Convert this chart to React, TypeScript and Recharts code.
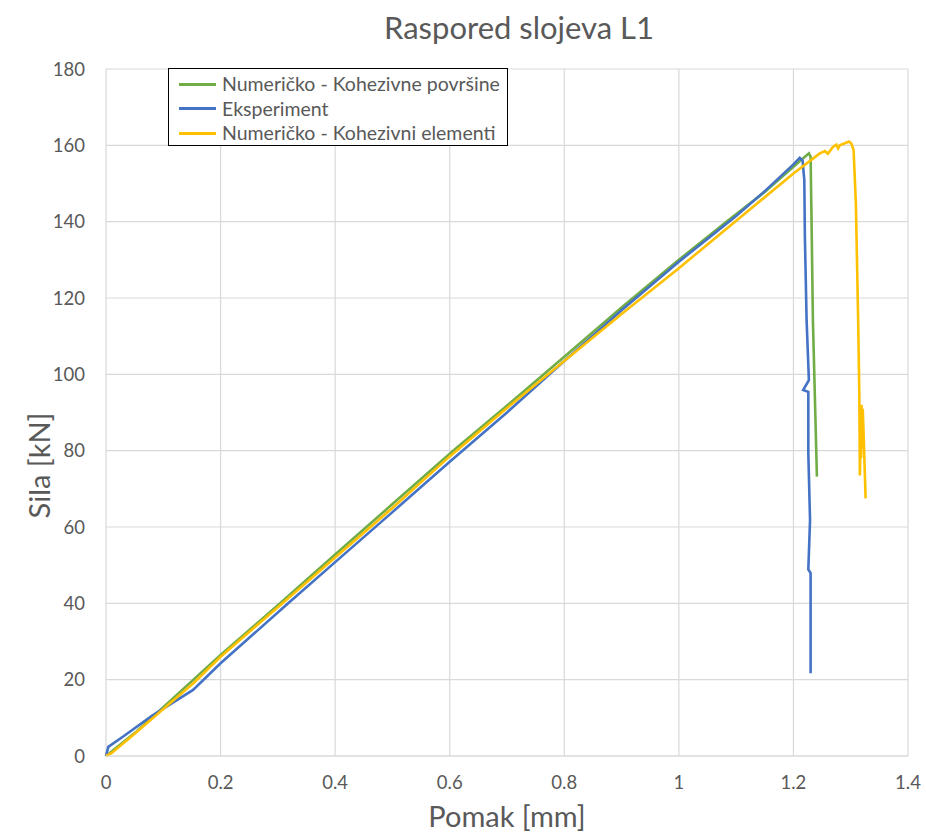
import { LineChart, Line, XAxis, YAxis, CartesianGrid } from 'recharts';

// Pomak [mm] / Sila [kN] pairs
const kohezivnePovrsine = [
  [0, 0], [0.05, 6], [0.1, 12.8], [0.2, 26.5], [0.304, 40], [0.4, 52.8], [0.5, 66],
  [0.606, 80], [0.705, 92.4], [0.8, 104.6], [0.9, 117.5], [1.0, 130], [1.083, 140],
  [1.15, 147.8], [1.2, 154.4], [1.227, 157.9], [1.23, 157], [1.2316, 140.4],
  [1.234, 114.2], [1.237, 96.7], [1.241, 73.2],
];

const eksperiment = [
  [0, 0], [0.004, 2.4], [0.03, 5.1], [0.08, 10.5], [0.152, 17.3], [0.2, 24.3],
  [0.318, 40], [0.4, 50.8], [0.5, 63.9], [0.6, 77.1], [0.7, 90], [0.8, 103.5],
  [0.9, 116.8], [1.0, 129.5], [1.1, 141.5], [1.15, 148], [1.2, 155], [1.211, 156.7],
  [1.216, 156], [1.219, 150.9], [1.22, 136], [1.223, 114.2], [1.227, 98.5],
  [1.217, 95.9], [1.226, 95.4], [1.226, 79.3], [1.229, 61.8], [1.227, 53.1],
  [1.226, 48.9], [1.23, 47.9], [1.23, 21.7],
];

const kohezivniElementi = [
  [0, 0], [0.01, 0.8], [0.05, 5.8], [0.1, 12.3], [0.152, 19], [0.2, 26], [0.3, 39],
  [0.4, 52], [0.5, 65], [0.6, 78.5], [0.7, 91.2], [0.8, 103.5], [0.9, 115.8],
  [1.0, 127.8], [1.098, 140], [1.2, 152.6], [1.246, 157.9], [1.255, 158.5],
  [1.26, 157.8], [1.269, 159.6], [1.275, 160.2], [1.278, 159.2], [1.281, 160],
  [1.297, 161], [1.301, 160.5], [1.305, 158.8], [1.309, 144.8], [1.313, 114.2],
  [1.315, 95], [1.316, 73.5], [1.318, 88], [1.319, 92], [1.318, 78], [1.321, 91],
  [1.323, 82], [1.326, 67.5],
];

const xTicks = [0, 0.2, 0.4, 0.6, 0.8, 1, 1.2, 1.4];
const yTicks = [0, 20, 40, 60, 80, 100, 120, 140, 160, 180];

const series = [
  { name: 'Numeričko - Kohezivne površine', color: '#70ad47', points: kohezivnePovrsine },
  { name: 'Eksperiment', color: '#4472c4', points: eksperiment },
  { name: 'Numeričko - Kohezivni elementi', color: '#ffc000', points: kohezivniElementi },
];

const toRows = (pts: number[][]) => pts.map(([x, y]) => ({ x, y }));

const font = 'Lato, "Open Sans", sans-serif';
const grey = '#595959';

const LegendBox = () => (
  <div
    style={{
      position: 'absolute',
      left: 168,
      top: 68,
      width: 340,
      height: 78,
      boxSizing: 'border-box',
      border: '1px solid #000',
      background: '#fff',
      padding: '3px 0 0 10px',
      fontFamily: font,
      fontSize: 19.5,
      color: grey,
      lineHeight: '24.5px',
      whiteSpace: 'nowrap',
    }}
  >
    {series.map((s) => (
      <div key={s.name} style={{ display: 'flex', alignItems: 'center' }}>
        <span style={{ display: 'inline-block', width: 37, height: 3, background: s.color, marginRight: 6 }} />
        {s.name}
      </div>
    ))}
  </div>
);

export default function App() {
  return (
    <div style={{ position: 'absolute', left: 0, top: 0, width: 926, height: 839, background: '#fff' }}>
      <div
        style={{
          position: 'absolute',
          left: 0,
          width: 1038,
          top: 8,
          textAlign: 'center',
          fontFamily: font,
          fontSize: 31,
          color: grey,
        }}
      >
        Raspored slojeva L1
      </div>
      <LineChart
        width={926}
        height={839}
        margin={{ top: 69, right: 18, bottom: 33, left: 46 }}
        style={{ fontFamily: font }}
      >
        <CartesianGrid stroke="#d9d9d9" strokeWidth={1.2} />
        <XAxis
          type="number"
          dataKey="x"
          domain={[0, 1.4]}
          ticks={xTicks}
          height={50}
          axisLine={{ stroke: '#d9d9d9' }}
          tickLine={false}
          tickSize={0}
          tickMargin={20}
          tick={{ fill: grey, fontSize: 18.5 }}
          label={{ value: 'Pomak [mm]', position: 'bottom', offset: 0, fill: grey, fontSize: 29 }}
        />
        <YAxis
          type="number"
          dataKey="y"
          domain={[0, 180]}
          ticks={yTicks}
          width={60}
          axisLine={false}
          tickLine={false}
          tickSize={0}
          tickMargin={21}
          tick={{ fill: grey, fontSize: 18.5 }}
          label={{ value: 'Sila [kN]', angle: -90, position: 'left', offset: 6, fill: grey, fontSize: 29 }}
        />
        {series.map((s) => (
          <Line
            key={s.name}
            name={s.name}
            data={toRows(s.points)}
            dataKey="y"
            type="linear"
            stroke={s.color}
            strokeWidth={2.6}
            dot={false}
            isAnimationActive={false}
          />
        ))}
      </LineChart>
      <LegendBox />
    </div>
  );
}
